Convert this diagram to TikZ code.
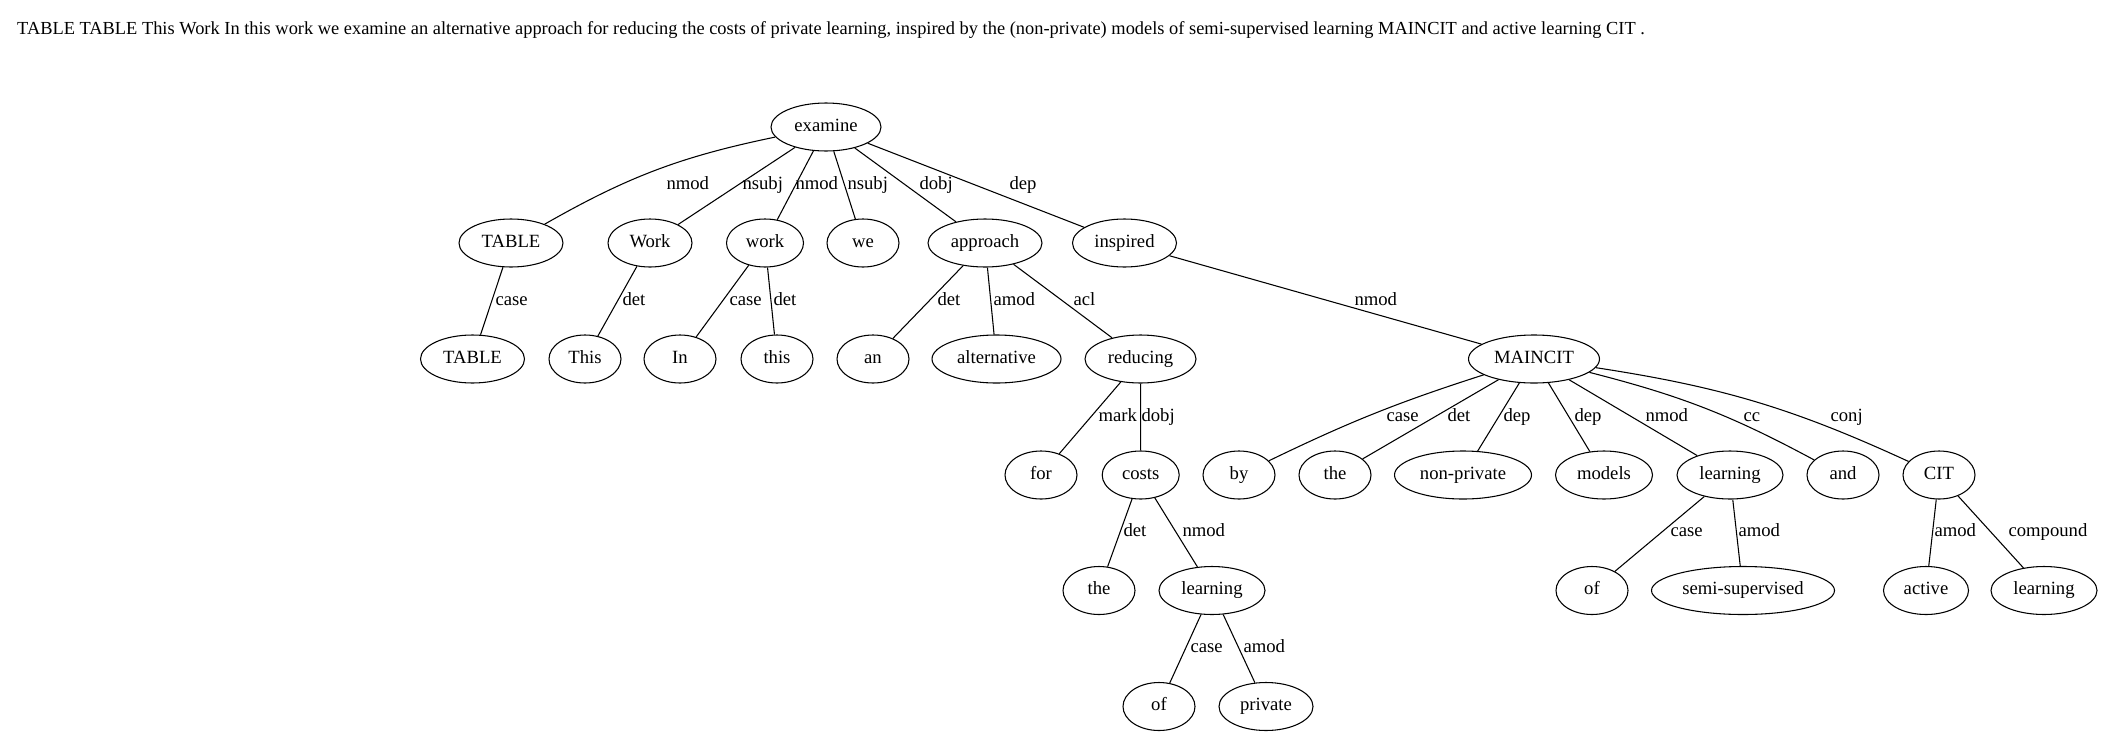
\documentclass[tikz,border=0pt]{standalone}
\usepackage{fontspec}
\setmainfont{Liberation Serif}
\usetikzlibrary{shapes.geometric}
\tikzset{
  word/.style={draw, ellipse, inner sep=0pt, minimum width=54pt, minimum height=36pt,
    text height=9.5pt, text depth=3pt, font=\fontsize{14}{16}\selectfont},
  rel/.style={anchor=west, inner sep=0pt, text height=9.5pt, text depth=3pt,
    font=\fontsize{14}{16}\selectfont}
}
\begin{document}
\begin{tikzpicture}[x=0.75pt, y=-0.75pt, line width=0.8pt]
\useasboundingbox (0,0) rectangle (2103,736);
\node[anchor=base west, inner sep=0pt, font=\fontsize{13.8}{16}\selectfont] (sentence) at (16.7,34) {TABLE TABLE This Work In this work we examine an alternative approach for reducing the costs of private learning, inspired by the (non-private) models of semi-supervised learning MAINCIT and active learning CIT .};
% root
\node[word, minimum width=82.5pt] (examine) at (826,127) {examine};
% level 1
\node[word, minimum width=78pt] (table1) at (511,243) {TABLE};
\node[word, minimum width=63pt] (work1) at (650,243) {Work};
\node[word, minimum width=57.75pt] (work2) at (765,243) {work};
\node[word] (we) at (863,243) {we};
\node[word, minimum width=85.5pt] (approach) at (985,243) {approach};
\node[word, minimum width=78pt] (inspired) at (1124.5,243) {inspired};
% level 2
\node[word, minimum width=78pt] (table2) at (472.5,359) {TABLE};
\node[word] (this1) at (585,359) {This};
\node[word] (in) at (680,359) {In};
\node[word] (this2) at (777,359) {this};
\node[word] (an) at (873,359) {an};
\node[word, minimum width=96.75pt] (alternative) at (996.5,359) {alternative};
\node[word, minimum width=83.25pt] (reducing) at (1140.5,359) {reducing};
\node[word, minimum width=98.25pt] (maincit) at (1534,359) {MAINCIT};
% level 3
\node[word] (for) at (1041,475) {for};
\node[word, minimum width=57.75pt] (costs) at (1140.7,475) {costs};
\node[word] (by) at (1239,475) {by};
\node[word] (the1) at (1335,475) {the};
\node[word, minimum width=102.75pt] (nonprivate) at (1463,475) {non-private};
\node[word, minimum width=72.75pt] (models) at (1604,475) {models};
\node[word, minimum width=79.5pt] (learning1) at (1730,475) {learning};
\node[word] (and) at (1843,475) {and};
\node[word] (cit) at (1939,475) {CIT};
% level 4
\node[word] (the2) at (1099,590.5) {the};
\node[word, minimum width=79.5pt] (learning2) at (1212,590.5) {learning};
\node[word] (of1) at (1592,590.5) {of};
\node[word, minimum width=137.25pt] (semi) at (1743,590.5) {semi-supervised};
\node[word, minimum width=63.75pt] (active) at (1926,590.5) {active};
\node[word, minimum width=79.5pt] (learning3) at (2044,590.5) {learning};
% level 5
\node[word] (of2) at (1159,706.5) {of};
\node[word, minimum width=70.5pt] (private) at (1266,706.5) {private};
% dependencies
\draw (examine) to[bend right=9] (table1) node[rel] at (666,185) {nmod};
\draw (examine) -- (work1) node[rel] at (742,185) {nsubj};
\draw (examine) -- (work2) node[rel] at (795,185) {nmod};
\draw (examine) -- (we) node[rel] at (847,185) {nsubj};
\draw (examine) -- (approach) node[rel] at (919,185) {dobj};
\draw (examine) -- (inspired) node[rel] at (1009,185) {dep};
\draw (table1) -- (table2) node[rel] at (495,301) {case};
\draw (work1) -- (this1) node[rel] at (622,301) {det};
\draw (work2) -- (in) node[rel] at (729,301) {case};
\draw (work2) -- (this2) node[rel] at (773,301) {det};
\draw (approach) -- (an) node[rel] at (937,301) {det};
\draw (approach) -- (alternative) node[rel] at (993,301) {amod};
\draw (approach) -- (reducing) node[rel] at (1073,301) {acl};
\draw (inspired) -- (maincit) node[rel] at (1354,301) {nmod};
\draw (reducing) -- (for) node[rel] at (1098,417) {mark};
\draw (reducing) -- (costs) node[rel] at (1141,417) {dobj};
\draw (maincit) to[bend right=4] (by) node[rel] at (1386,417) {case};
\draw (maincit) -- (the1) node[rel] at (1447,417) {det};
\draw (maincit) -- (nonprivate) node[rel] at (1503,417) {dep};
\draw (maincit) -- (models) node[rel] at (1574,417) {dep};
\draw (maincit) -- (learning1) node[rel] at (1645,417) {nmod};
\draw (maincit) to[bend left=7] (and) node[rel] at (1743,417) {cc};
\draw (maincit) to[bend left=8] (cit) node[rel] at (1830,417) {conj};
\draw (costs) -- (the2) node[rel] at (1123,532) {det};
\draw (costs) -- (learning2) node[rel] at (1182,532) {nmod};
\draw (learning1) -- (of1) node[rel] at (1670,532) {case};
\draw (learning1) -- (semi) node[rel] at (1738,532) {amod};
\draw (cit) -- (active) node[rel] at (1934,532) {amod};
\draw (cit) -- (learning3) node[rel] at (2008,532) {compound};
\draw (learning2) -- (of2) node[rel] at (1190,648) {case};
\draw (learning2) -- (private) node[rel] at (1243,648) {amod};
\end{tikzpicture}
\end{document}
